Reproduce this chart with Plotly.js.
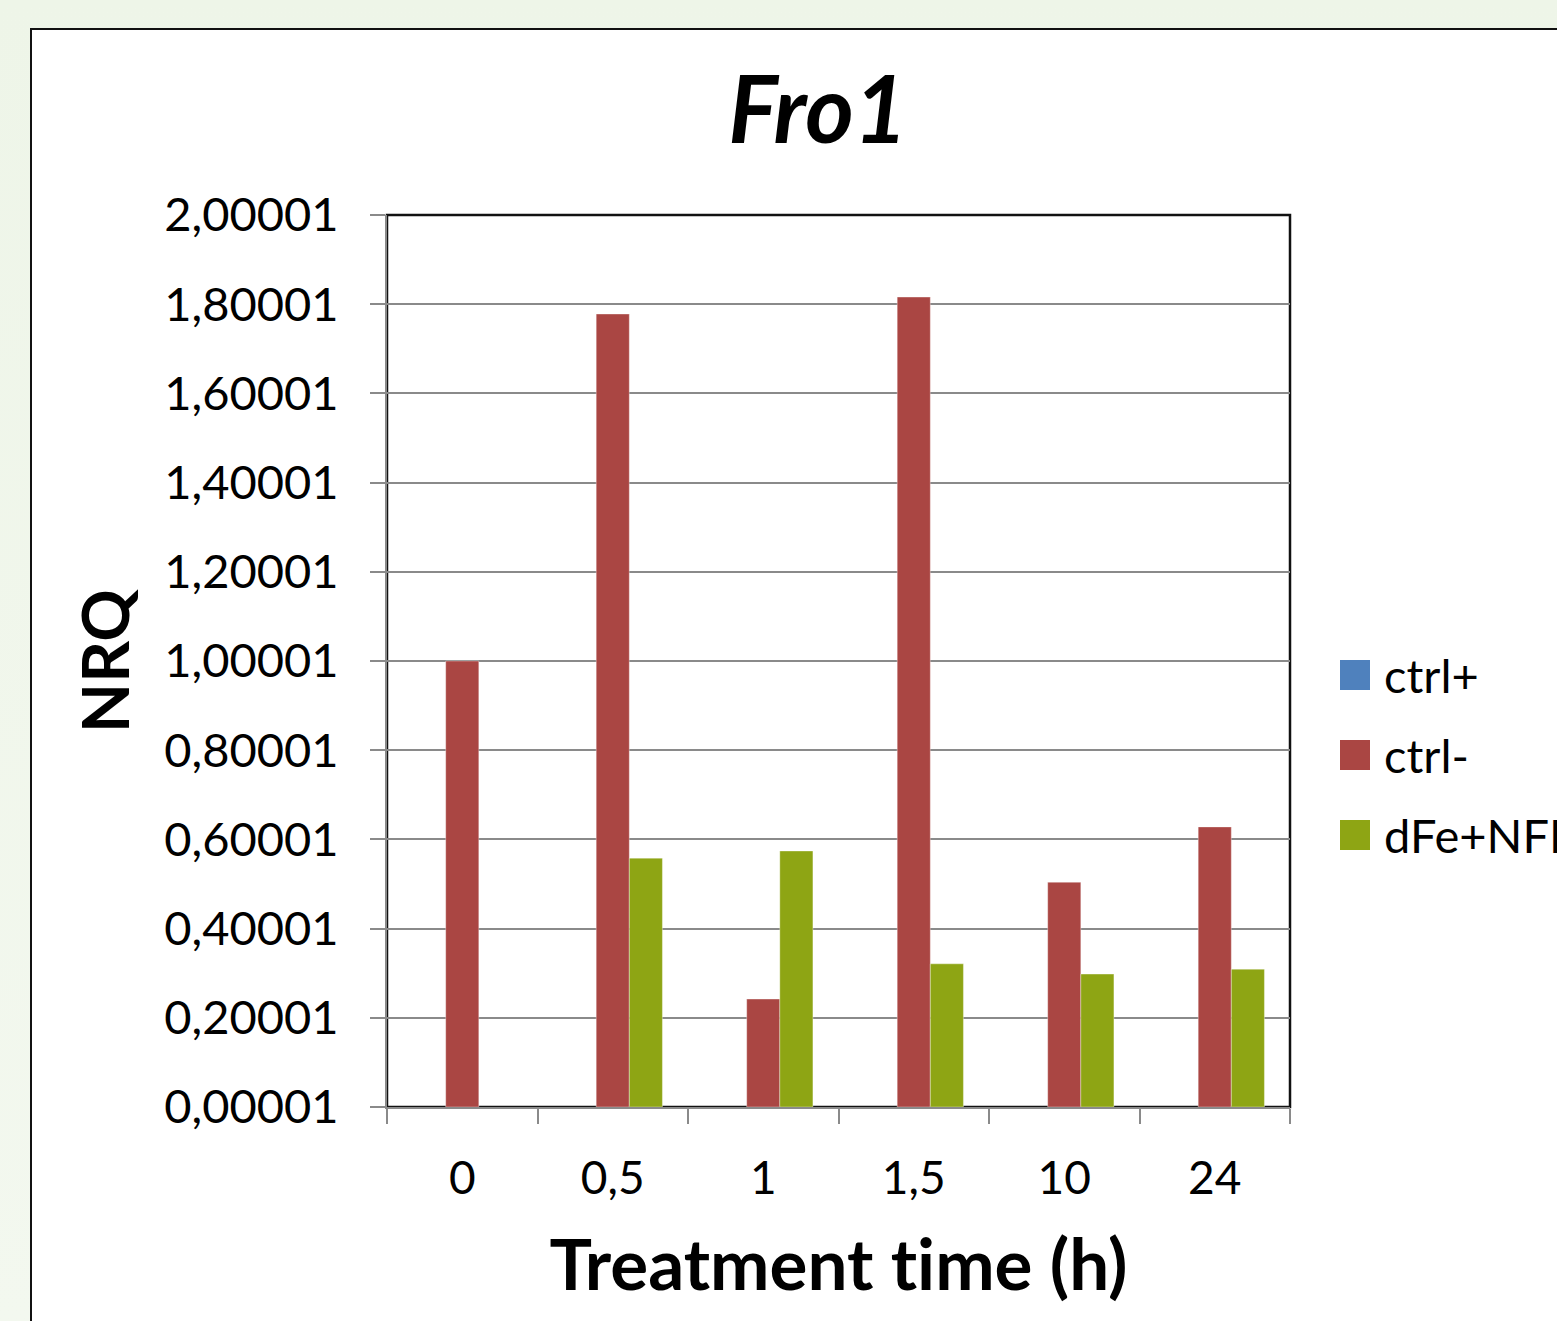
<!DOCTYPE html>
<html>
<head>
<meta charset="utf-8">
<script src="https://cdn.plot.ly/plotly-3.0.1.min.js"></script>
<style>
  html, body { margin: 0; padding: 0; width: 1557px; height: 1321px; overflow: hidden;
    background: linear-gradient(180deg, #eef5e8 0%, #f3f8ef 100%); }
  #box { position: absolute; left: 30px; top: 28px; width: 1600px; height: 1400px;
    background: #ffffff; border-left: 2px solid #111; border-top: 2px solid #111; box-sizing: border-box; }
  #chart { position: absolute; left: 0; top: 0; width: 1557px; height: 1321px; }
  text { font-variant-ligatures: none; font-feature-settings: "liga" 0; }
</style>
</head>
<body>
<div id="box"></div>
<div id="chart"></div>
<script>
// ---- data ----
const categories = ['0', '0,5', '1', '1,5', '10', '24'];
const seriesNames = ['ctrl+', 'ctrl-', 'dFe+NFI'];
const seriesColors = ['#4F81BD', '#AA4643', '#8EA514'];
const ctrlPlus  = [null, null, null, null, null, null];
const ctrlMinus = [1.000, 1.778, 0.242, 1.816, 0.504, 0.628];
const dFeNFI    = [null, 0.558, 0.574, 0.321, 0.298, 0.309];
const yTickVals = [0.00001, 0.20001, 0.40001, 0.60001, 0.80001, 1.00001, 1.20001, 1.40001, 1.60001, 1.80001, 2.00001];
const yTickText = ['0,00001', '0,20001', '0,40001', '0,60001', '0,80001', '1,00001', '1,20001', '1,40001', '1,60001', '1,80001', '2,00001'];
const chartTitle = 'Fro1';
const xTitle = 'Treatment time (h)';
const yTitle = 'NRQ';

// ---- layout geometry (pixels) ----
const W = 1557, H = 1321;
const L = 387, R = 1290, T = 215, B = 1107;
const pw = R - L, ph = B - T;
const px = v => (v - L) / pw;
const py = v => (B - v) / ph;

const FONT = 'Lato, "Open Sans", sans-serif';
const values = [ctrlPlus, ctrlMinus, dFeNFI];

const traces = values.map((vals, i) => ({
  type: 'bar',
  name: seriesNames[i],
  x: categories,
  y: vals,
  marker: { color: seriesColors[i], line: { color: 'rgba(255,255,255,0.35)', width: 1 } },
  showlegend: false,
  hoverinfo: 'x+y+name'
}));

// custom legend (large square keys like the original)
const legendShapes = [];
const legendAnns = [];
const legendRowsY = [675, 755, 835];
seriesNames.forEach((n, i) => {
  const cy = legendRowsY[i];
  legendShapes.push({
    type: 'rect', xref: 'paper', yref: 'paper',
    x0: px(1340), x1: px(1370), y0: py(cy + 15), y1: py(cy - 15),
    fillcolor: seriesColors[i], line: { width: 0 }, layer: 'above'
  });
  legendAnns.push({
    xref: 'paper', yref: 'paper', x: px(1382), y: py(cy),
    xanchor: 'left', yanchor: 'middle', showarrow: false,
    text: n, font: { family: FONT, size: 47, color: '#000' }
  });
});

const layout = {
  width: W, height: H,
  margin: { l: L, r: W - R, t: T, b: H - B, pad: 0 },
  paper_bgcolor: 'rgba(0,0,0,0)',
  plot_bgcolor: '#ffffff',
  barmode: 'group',
  bargap: 0.34,
  bargroupgap: 0,
  showlegend: false,
  font: { family: FONT, color: '#000' },
  title: {
    text: chartTitle,
    font: { family: FONT, size: 93, weight: 'bold', style: 'italic', color: '#000' },
    x: 818 / W, xanchor: 'center',
    y: 1 - 110 / H, yanchor: 'middle'
  },
  xaxis: {
    type: 'category',
    tickson: 'boundaries',
    ticks: 'outside', ticklen: 15, tickwidth: 2, tickcolor: '#8a8a8a',
    showline: true, linecolor: '#8a8a8a', linewidth: 2,
    showgrid: false, zeroline: false,
    tickfont: { family: FONT, size: 46, color: '#000' },
    ticklabelstandoff: 30,
    automargin: false,
    title: { text: xTitle, font: { family: FONT, size: 71, weight: 'bold', color: '#000' }, standoff: 37 }
  },
  yaxis: {
    range: [0.00001, 2.00001],
    tickvals: yTickVals, ticktext: yTickText,
    ticks: 'outside', ticklen: 15, tickwidth: 2, tickcolor: '#8a8a8a',
    showline: true, linecolor: '#8a8a8a', linewidth: 2,
    showgrid: true, gridcolor: '#8a8a8a', gridwidth: 1.5,
    zeroline: false,
    tickfont: { family: FONT, size: 47, color: '#000' },
    ticklabelstandoff: 22,
    automargin: false,
    title: { text: yTitle, font: { family: FONT, size: 65, weight: 'bold', color: '#000' }, standoff: 14 }
  },
  shapes: [
    { type: 'rect', xref: 'paper', yref: 'paper', x0: 0, x1: 1, y0: 0, y1: 1,
      line: { color: '#111', width: 2.5 }, fillcolor: 'rgba(0,0,0,0)', layer: 'below' }
  ].concat(legendShapes),
  annotations: legendAnns
};

Plotly.newPlot('chart', traces, layout, { displayModeBar: false, staticPlot: false });
</script>
</body>
</html>
